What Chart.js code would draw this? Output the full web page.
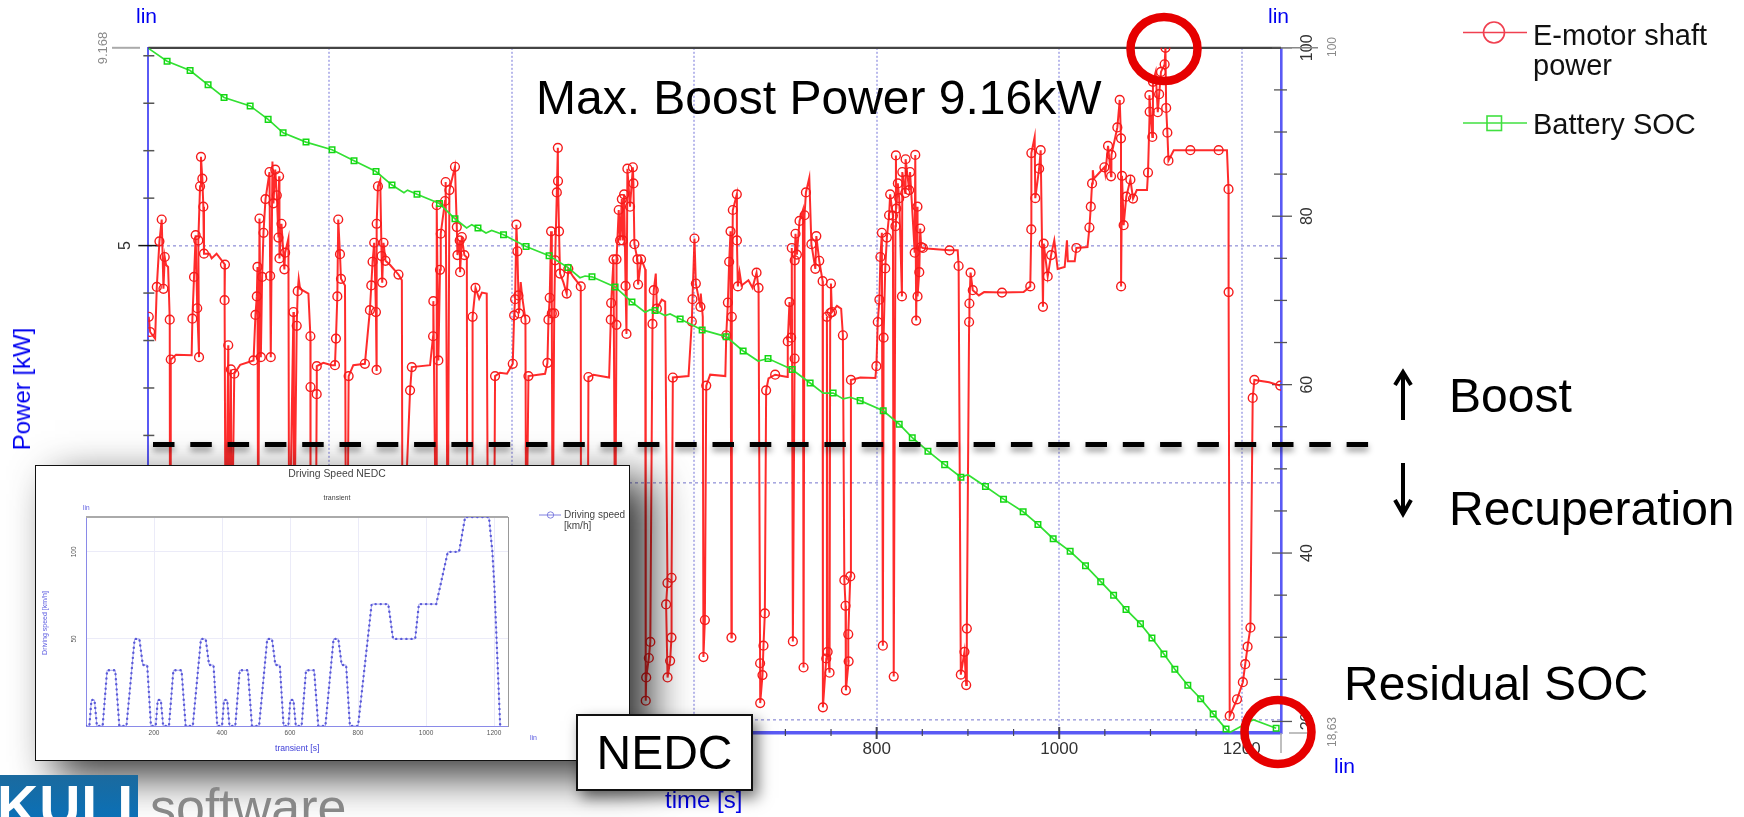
<!doctype html>
<html lang="en">
<head>
<meta charset="UTF-8">
<title>E-motor shaft power and battery SOC over NEDC</title>
<script src="https://cdn.jsdelivr.net/npm/chart.js"></script>
<style>
    html, body { margin: 0; background: #fff; overflow: hidden; }
    #page { position: relative; width: 1744px; height: 817px; overflow: hidden; background: #fff; font-family: "Liberation Sans", Arial, sans-serif; }
    #mainChart { position: absolute; left: 0; top: 0; filter: blur(0.6px); }
    .t { position: absolute; white-space: nowrap; line-height: 1; transform: translateY(-50%); }
    .v { position: absolute; white-space: nowrap; line-height: 1; transform: translate(-50%, -50%) rotate(-90deg); }
    .big { font-size: 48px; color: #000; z-index: 6; }
    .blue { color: #0000f0; }
    .layer { position: absolute; left: 0; top: 0; }
    #inset { position: absolute; left: 35px; top: 465px; width: 595px; height: 296px; background: #fff; box-sizing: border-box; border: 1.5px solid #111; box-shadow: 20px 15px 40px rgba(0, 0, 0, .8); z-index: 3; }
    #insetChart { position: absolute; left: -1.5px; top: -1.5px; filter: blur(0.4px); }
    #nedcBox { position: absolute; left: 576px; top: 714px; width: 177px; height: 77px; background: #fff; box-sizing: border-box; border: 2px solid #111; box-shadow: 5px 7px 14px rgba(0, 0, 0, .55); z-index: 4; font-size: 48px; text-align: center; line-height: 73px; }
    #logo { position: absolute; left: 0; top: 775px; width: 138px; height: 42px; background: linear-gradient(#1b6a9e, #0b70b6); overflow: hidden; z-index: 5; }
    #logo span { position: absolute; left: -3px; top: 3px; color: #fff; font: bold 57px/1 "Liberation Sans", Arial, sans-serif; letter-spacing: 1px; }
    #soft { position: absolute; left: 150px; top: 781px; color: #888; font-size: 52px; line-height: 1; z-index: 5; }
</style>
</head>
<body>
<div id="page">
    <canvas id="mainChart" width="1744" height="817"></canvas>

    <!-- boost / recuperation split line -->
    <svg class="layer" width="1744" height="817" style="z-index:2; filter: drop-shadow(0 4px 3px rgba(0,0,0,.45));">
        <line x1="153" y1="444.5" x2="1370" y2="444.5" stroke="#000" stroke-width="5" stroke-dasharray="21.5 15.8"/>
    </svg>

    <svg class="layer" width="1744" height="817" style="z-index:6;">
        <ellipse cx="1164" cy="49" rx="33.5" ry="32" fill="none" stroke="#e60000" stroke-width="8.5"/>
        <ellipse cx="1278" cy="732" rx="33.5" ry="32" fill="none" stroke="#e60000" stroke-width="8.5"/>
        <!-- arrows -->
        <path d="M1403 420V374M1395 385L1403 372L1411 385" fill="none" stroke="#000" stroke-width="4"/>
        <path d="M1403 463V512M1395 500L1403 514L1411 500" fill="none" stroke="#000" stroke-width="4"/>
        <!-- legend -->
        <g style="filter: blur(0.5px)">
            <line x1="1463" y1="32.5" x2="1527" y2="32.5" stroke="#f04050" stroke-width="1.6"/>
            <circle cx="1494" cy="32.5" r="10.5" fill="none" stroke="#f04050" stroke-width="1.6"/>
            <line x1="1463" y1="123" x2="1527" y2="123" stroke="#40e040" stroke-width="1.6"/>
            <rect x="1487" y="116" width="14.5" height="14.5" fill="none" stroke="#40e040" stroke-width="1.6"/>
        </g>
    </svg>

    <div class="t" style="left:1533px; top:35px; font-size:29px; color:#111; z-index:6;">E-motor shaft</div>
    <div class="t" style="left:1533px; top:65px; font-size:29px; color:#111; z-index:6;">power</div>
    <div class="t" style="left:1533px; top:124px; font-size:29px; color:#111; z-index:6;">Battery SOC</div>

    <div class="t big" style="left:536px; top:98px;">Max. Boost Power 9.16kW</div>
    <div class="t big" style="left:1449px; top:396px;">Boost</div>
    <div class="t big" style="left:1449px; top:509px;">Recuperation</div>
    <div class="t big" style="left:1344px; top:684px;">Residual SOC</div>

    <div class="t blue" style="left:136px; top:15px; font-size:21px;">lin</div>
    <div class="t blue" style="left:1268px; top:15px; font-size:21px;">lin</div>
    <div class="t blue" style="left:1334px; top:765px; font-size:21px;">lin</div>
    <div class="v blue" style="left:22px; top:389px; font-size:24px;">Power [kW]</div>
    <div class="t blue" style="left:665px; top:800px; font-size:24px;">time [s]</div>
    <div class="v" style="left:102px; top:48px; font-size:13px; color:#8a8a8a;">9.168</div>
    <div class="v" style="left:1332px; top:47px; font-size:12px; color:#8a8a8a;">100</div>
    <div class="v" style="left:1332px; top:732px; font-size:12px; color:#8a8a8a;">18,63</div>

    <div id="inset">
        <canvas id="insetChart" width="595" height="296"></canvas>
        <div class="t" style="left:301px; top:3px; transform:translate(-50%,0); font-size:10.4px; color:#444;">Driving Speed NEDC</div>
        <div class="t" style="left:301px; top:28px; transform:translate(-50%,0); font-size:7px; color:#444;">transient</div>
        <div class="t blue" style="left:47px; top:42px; font-size:6.5px; color:#5a5ae0;">lin</div>
        <div class="t" style="left:494px; top:271px; font-size:7px; color:#5a5ae0;">lin</div>
        <div class="v" style="left:8px; top:157px; font-size:7px; color:#5a5ae0;">Driving speed [km/h]</div>
        <div class="t" style="left:239px; top:282px; font-size:8.6px; color:#3c3cd8;">transient [s]</div>
        <svg style="position:absolute; left:0; top:0;" width="595" height="296">
            <line x1="503" y1="49" x2="525" y2="49" stroke="#8080e0" stroke-width="1"/>
            <circle cx="514.5" cy="49" r="3.2" fill="none" stroke="#8080e0" stroke-width="1"/>
        </svg>
        <div class="t" style="left:528px; top:49px; font-size:10px; color:#444;">Driving speed</div>
        <div class="t" style="left:528px; top:60px; font-size:10px; color:#444;">[km/h]</div>
    </div>

    <div id="nedcBox">NEDC</div>
    <div id="logo"><span>KULI</span></div>
    <div id="soft">software</div>
</div>

<script>
    // E-motor shaft power: [time s, power kW], in drawing order
    const powerPoints = [
        [2.5,3.5],[4,3.18],[9.5,3.04],[11.3,4.13],[14.2,5.09],[16.7,5.55],[18.6,4.09],[20,4.76],[21.5,4.59],[23.7,4.55],[25.5,3.44],[25.8,-2],[26.6,2.6],
        [32.4,2.7],[49.5,2.69],[50.3,3.46],[52.1,4.34],[53.9,5.22],[55.6,3.68],[57.6,2.65],[56.8,5.11],[58.7,6.25],[59.7,6.87],[61.2,6.41],[62.3,5.82],[63,4.83],
        [69,4.83],[71.4,4.73],[76.8,4.83],[86,4.6],[85.6,3.85],[86.7,-2],[89.6,2.9],[89.7,-2],[92.5,2.39],[93.3,-2],[96.2,2.3],
        [102.7,2.49],[117.3,2.58],[119.4,3.54],[120.9,3.93],[121.6,4.55],[122.4,-2],[123.8,5.57],[125.3,2.65],[126.7,4.34],[128.2,5.27],[130.4,5.98],
        [134.8,6.55],[135.5,4.36],[136.2,2.65],[138,6.77],[139.1,5.89],[141.1,6.6],[142.8,6.06],[144.6,5.17],[145.3,6.46],[145.7,4.73],[147.9,5.46],[151.1,4.5],[151.9,4.85],[155.5,5.15],[156.3,-2],
        [161,3.6],[161.5,-2],[164.6,3.31],[165.7,4.04],[166.8,4.3],[168.3,4.09],[177.4,3.99],[179.6,3.09],[179.7,2.02],[179.8,-2],[185.4,-2],[186.5,1.87],[186.6,2.46],
        [193.8,2.53],[203,2.48],[206.5,2.48],[207.6,3.04],[209.1,3.93],[210.1,5.55],[212,4.82],[213.1,4.3],[217.5,4.16],[218.6,-2],[220.1,-2],[221.5,2.25],
        [226.6,2.48],[239.3,2.51],[244.8,3.64],[246.3,4.16],[247.7,4.66],[249.5,5.06],[251.4,3.6],[252.1,2.38],[252.2,5.46],[253.6,6.25],[256.1,6.38],[257.6,4.78],[258.3,4.22],[259.7,5.06],[261.9,4.68],
        [267,4.59],[276.1,4.39],[279.8,4.27],[280.5,-2],[288.8,1.95],[290.7,2.44],
        [310.7,2.48],[314,3.09],[314.3,3.83],[317.4,-2],[318,5.85],[319.8,2.58],[321.6,4.49],[322.4,5.25],[327.1,5.94],[327.8,6.34],[330,-2],[331.9,6.17],[338,6.66],[340,5.39],[340.7,4.8],[343.2,5.11],[343.6,4.44],[345.5,5.18],[348.3,4.8],[351,4.75],[351.5,-2],
        [357,-2],[357.3,3.5],[360.5,4.11],[364.5,3.88],[367.5,4.01],[372.8,3.99],[374.2,-2],[380.8,-2],[381.9,2.25],
        [387.3,2.32],[395,2.3],[401.3,2.51],[402.8,3.53],[403.9,3.87],[405.3,5.44],[406.4,4.88],[407.5,3.95],[408.2,3.57],[410,4.23],[412,3.87],[415.2,3.44],[416,-2],[418.5,2.25],
        [436.7,2.3],[439.3,2.53],[440.4,3.44],[441.8,3.9],[443.3,5.3],[444.1,3.57],[445,-2],[446.7,3.57],[447.7,4.69],[449.6,6.12],[450.7,7.06],[450.9,6.36],[452,5.3],[453.1,4.41],[456.7,4.23],[460.4,3.99],[462.2,4.51],[467.7,4.34],[475.8,4.14],[476.1,-2],[483.5,-2],[484.2,2.23],
        [489.7,2.28],[506.9,2.22],[508.7,3.44],[509.1,3.79],[511.7,4.71],[513.5,-2],[514.9,3.33],[515,4.71],[517.4,5.75],[518.9,5.11],[520.8,5.98],[521.8,5.11],[523.3,6.08],[524.9,4.15],[525.9,3.14],[526.9,6.62],[529.8,5.82],[532.9,6.65],[533.5,6.31],[534.6,5.03],[537.9,4.71],[538.6,4.18],[541.9,4.71],[544.5,4.6],[546.4,4.5],
        [547,-4.59],[547.5,-4.1],[550.4,-3.69],[552,-3.35],[554.4,3.35],[555.8,4.06],[558,4.41],[559.2,3.67],[564.6,3.86],[568.3,3.82],[570.8,-2.11],[569.3,-2.56],[570.9,-4.1],[573.7,-3.75],[575.2,-3.26],[575.3,-2],[576.7,2.22],
        [593.9,2.25],[597.5,3.4],[598.2,3.87],[600.4,5.15],[601.9,4.2],[606.9,3.71],[607.3,3.99],[609.5,3.5],[610.2,-3.67],[611.8,-2.89],[613.3,2.05],
        [617.6,2.28],[634.2,2.25],[635.2,3.11],[637,3.8],[638.4,4.66],[639.9,5.3],[640.9,-3.26],[641.3,3.5],[642.4,5.75],[646.8,6.08],[646.9,5.11],[647.9,4.14],[649.8,4.44],[652,4.16],[659.5,4.27],[664,4.11],[668.4,4.43],[670.6,4.11],
        [672.3,-3.8],[672.4,-4.64],[674.9,-4.05],[676,-3.43],[677.5,-2.75],[678.9,1.95],[681.5,2.2],[688.8,2.28],
        [702.3,2.23],[702.6,2.98],[704.5,3.81],[706.3,3.06],[707,4.95],[708.2,-3.34],[710.1,2.62],[710.2,4.69],[711.1,5.25],[712.6,4.81],[715.5,5.52],[719.2,5.75],[719.9,-3.89],[721,5.64],[722.5,6.12],[726.2,6.43],[728.5,5.03],[732.8,4.51],[733.9,5.2],[737.1,4.68],[740.8,4.25],
        [741.1,-4.73],[744.8,-3.7],[745.5,3.5],[746.3,-3.56],[748.4,-4],[749.1,3.58],[749.9,4.2],[751,3.6],[756.5,3.73],[761.1,3.67],[763,3.11],
        [764.6,-2.05],[765.9,-2.59],[766.3,-4.37],[769.3,-3.76],[768.9,-3.19],[771.1,-1.97],[771.8,2.17],[782,2.22],[798.6,2.21],[799.7,2.46],[801.2,3.39],[803,3.86],[804.1,4.76],[805.7,5.27],
        [806.8,-3.43],[807.6,3.06],[809.4,4.52],[811.2,5.17],[813.6,5.64],[814.8,6.08],[817.8,5.63],[818.7,-4.08],[820.6,5.41],[821.1,6.9],[821.5,5.78],[823.2,6.31],[824.7,6],[827.7,3.93],[828.1,6.55],[831.3,6.11],[831.7,6.82],[835.6,6.17],[836.6,6.55],[841.7,4.85],[842.3,6.91],[843.3,3.42],[844.7,5.82],[844.8,3.93],[846.7,4.44],[847.7,5.36],[848.8,4.97],[850.7,4.95],[854.8,4.94],
        [879.8,4.9],[888.8,4.9],[889.8,4.57],[892.2,-4.04],[896.2,-3.56],[898.1,-4.26],[898.8,-3.07],[901.3,3.39],[901.6,3.78],[902.9,4.43],[905.3,4.06],[912,3.95],[917.7,4.02],[937.3,4.01],
        [961,4.02],[968.3,4.14],[969.4,5.34],[969.5,6.95],[973.1,7.29],[973.8,6],[978,6.62],[979.7,7.01],[982.2,3.71],[983,5.04],[987.4,4.35],[991.1,4.8],[994.6,5.11],[998.3,4.51],
        [1006,4.55],[1008.5,5.11],[1009.5,4.67],[1017,4.67],[1018.8,4.95],[1031,4.97],[1033.1,5.38],[1034.6,5.82],[1036,6.31],[1036.8,6.59],[1037.9,6.41],[1049.5,6.65],[1050.5,6.52],[1053.5,7.1],[1056.8,6.46],[1057.2,6.91],
        [1063.7,7.49],[1066.3,8.07],[1067.7,7.26],[1067.8,4.14],[1068.8,6.47],[1070.6,5.43],[1073.5,6.03],[1078,6.39],[1080.9,5.99],[1085,6.17],[1096.2,6.17],[1097.3,6.54],[1099.1,7.82],[1098.8,8.17],[1102,7.29],[1102.7,8.45],[1105.7,8.66],[1108,7.81],[1109.5,8.19],[1111.5,8.66],[1115.5,8.82],[1116.4,9.168],[1117.2,7.9],[1118.5,7.38],[1119.7,6.79],
        [1125.5,7.01],[1143.7,7.01],[1174.7,7.01],[1183.8,7.01],[1185.5,6.19],[1185.6,4.02],[1186.8,-4.91],[1194.8,-4.56],[1201.2,-4.2],[1203.8,-3.82],[1206.4,-3.45],[1209.5,-3.05],[1212,1.79],[1213.8,2.17],[1230,2.12],[1242.2,2.05]
    ];
    // path corners that carry no circle in the picture
    const powerPlainTimes = [
        9.5, 21.5, 23.7, 25.8, 32.4, 49.5, 69, 71.4, 76.8, 86.7, 89.7, 93.3, 102.7, 122.4, 138, 155.5, 156.3, 161.5, 166.8, 168.3, 177.4, 179.8, 185.4, 193.8, 203, 217.5, 218.6, 220.1, 226.6, 256.1, 267, 279.8, 280.5,
        310.7, 317.4, 330, 351, 351.5, 357, 364.5, 367.5, 372.8, 374.2, 380.8, 387.3, 395, 410, 412, 416, 436.7, 445, 456.7, 467.7, 476.1, 483.5, 489.7, 506.9, 513.5, 544.5, 546.4, 558, 564.6, 568.3, 593.9, 607.3, 609.5, 617.6, 634.2, 649.8, 652, 659.5, 664, 681.5, 702.3, 719.2, 726.2, 756.5, 761.1, 782, 798.6, 854.8, 888.8,
        912, 917.7, 961, 973.1, 994.6, 998.3, 1006, 1008.5, 1009.5, 1017, 1031, 1036.8, 1037.9, 1050.5, 1085, 1096.2, 1105.7, 1125.5, 1183.8, 1230
    ];

    // Battery SOC [%]
    const socPoints = [
        [2.6,99.9],[22.6,98.4],[47.8,97.3],[67.5,95.6],[85,94.1],[113.6,93.1],[133.3,91.5],[149.7,89.9],[174.8,88.8],[203.3,87.9],[227.4,86.6],[251.5,85.3],[269,83.7],[282.1,82.8],[286,83.1],[296.4,82.6],
        [321,81.5],[338,79.7],[350.8,78.6],[356.4,79],[363.2,78.6],[372,78],[378.2,78.3],[391.2,77.8],[415.9,76.4],[441.1,75.3],[461.9,73.9],[475,72.7],[480.5,72.9],[488.1,72.8],[513.4,71.6],[531.9,69.8],
        [546.3,68.6],[551.8,68.9],[557.2,68.8],[568.2,68.2],[573.7,68.4],[584.7,67.8],[608.8,66.5],[635.1,65.7],[653.7,64],[670.1,62.8],[681,63.1],[707.4,61.8],[727.1,60.2],[741.4,59],[752.3,59],[763.3,58.3],[771,58.5],[781.9,58.1],
        [807.2,56.9],[824.7,55.3],[839,53.7],[856.2,52.1],[874.5,50.5],[892.3,49],[900,49.3],[919.2,47.9],[939,46.4],[960.5,44.9],[976.7,43.4],[993.4,41.7],[1012,40.2],[1028.8,38.5],[1045.5,36.6],[1059.6,35],
        [1073.2,33.3],[1089,31.6],[1101.6,29.9],[1114.7,28],[1126.7,26.2],[1140.9,24.3],[1155,22.7],[1168.7,20.9],[1182.8,19.1],[1186.9,18.7],[1212.6,20.2],[1237.7,19.2]
    ];
    const socPlainTimes = [2.6, 282.1, 286, 350.8, 356.4, 372, 378.2, 475, 480.5, 546.3, 551.8, 568.2, 573.7, 670.1, 741.4, 763.3, 771, 900, 1186.9, 1212.6];

    // axis ticks
    const timeTicks = [50, 100, 150, 200, 250, 300, 350, 400, 450, 500, 550, 600, 650, 700, 750, 800, 850, 900, 950, 1000, 1050, 1100, 1150, 1200];
    const timeLabels = [200, 400, 600, 800, 1000, 1200];
    const powerTicks = [-5, -4, -3, -2, -1, 0, 1, 2, 3, 4, 5, 6, 7, 8, 9];
    const powerLabels = [-5, 0, 5];
    const socTicks = [20, 25, 30, 35, 40, 45, 50, 55, 60, 65, 70, 75, 80, 85, 90, 95, 100];
    const socLabels = [20, 40, 60, 80, 100];

    // inset: Driving speed NEDC
    const speedPoints = [
        [0,0],[10,0],[16,15],[25,15],[32,0],[49,0],[62,32],[86,32],[98,0],[119,0],[143,50],[157,50],[167,35],[180,35],[191,0],
        [205,0],[211,15],[220,15],[227,0],[244,0],[257,32],[281,32],[293,0],[314,0],[338,50],[352,50],[362,35],[375,35],[386,0],
        [400,0],[406,15],[415,15],[422,0],[439,0],[452,32],[476,32],[488,0],[509,0],[533,50],[547,50],[557,35],[570,35],[581,0],
        [595,0],[601,15],[610,15],[617,0],[634,0],[647,32],[671,32],[683,0],[704,0],[728,50],[742,50],[752,35],[765,35],[776,0],
        [800,0],[840,70],[889,70],[903,50],[968,50],[979,70],[1030,70],[1064,100],[1097,100],[1115,120],[1185,120],[1195,100],[1201,80],[1218,0]
    ];
    const insetTimeTicks = [200, 400, 600, 800, 1000, 1200];
    const insetSpeedTicks = [10, 20, 30, 40, 50, 60, 70, 80, 90, 100, 110];
    const insetSpeedLabels = [50, 100];

    const toPoints = pairs => pairs.map(p => ({ x: p[0], y: p[1] }));
    const fixedTicks = values => scale => { scale.ticks = values.map(v => ({ value: v })); };

    // ticks cross the axis lines in the original, which the built-in ones do not do
    const crossTicks = {
        id: 'crossTicks',
        beforeDatasetsDraw(chart) {
            const c = chart.ctx, s = chart.scales, a = chart.chartArea;
            const seg = (x1, y1, x2, y2, col, w) => {
                c.strokeStyle = col; c.lineWidth = w;
                c.beginPath(); c.moveTo(x1, y1); c.lineTo(x2, y2); c.stroke();
            };
            c.save();
            seg(a.left, a.top, a.right, a.top, '#444', 2.2);
            seg(112, a.top, 140, a.top, '#aaa', 2);
            powerTicks.forEach(v => {
                const y = s.y.getPixelForValue(v), major = powerLabels.includes(v);
                seg(a.left - (major ? 10 : 5), y, a.left + (major ? 12 : 6), y, major ? '#111' : '#555', 1.5);
            });
            socTicks.forEach(v => {
                const y = s.soc.getPixelForValue(v), major = socLabels.includes(v);
                seg(a.right - (major ? 9 : 7), y, a.right + (major ? 11 : 6), y, '#555', 1.3);
            });
            timeTicks.forEach(v => {
                const x = s.x.getPixelForValue(v), major = timeLabels.includes(v);
                seg(x, a.bottom - (major ? 6 : 4), x, a.bottom + (major ? 6 : 3), '#445', major ? 2 : 1.2);
            });
            seg(a.right, a.bottom, a.right, a.bottom + 20, '#aaa', 1.5);
            seg(a.right + 8, a.bottom, a.right + 32, a.bottom, '#aaa', 1.5);
            seg(a.right, a.top, a.right + 37, a.top, '#888', 1.5);
            c.restore();
        }
    };

    new Chart(document.getElementById('mainChart').getContext('2d'), {
        type: 'line',
        data: {
            datasets: [
                {
                    label: 'Battery SOC',
                    data: toPoints(socPoints),
                    yAxisID: 'soc',
                    borderColor: '#33e033',
                    borderWidth: 1.7,
                    backgroundColor: 'transparent',
                    pointStyle: 'rect',
                    pointBorderColor: '#14d814',
                    pointBorderWidth: 1.5,
                    pointBackgroundColor: 'transparent',
                    pointRadius: ctx => socPlainTimes.includes(socPoints[ctx.dataIndex][0]) ? 0 : 3.9
                },
                {
                    label: 'E-motor shaft power',
                    data: toPoints(powerPoints),
                    yAxisID: 'y',
                    borderColor: 'rgba(255, 20, 20, .9)',
                    borderWidth: 2,
                    backgroundColor: 'transparent',
                    pointBorderColor: '#f51c1c',
                    pointBorderWidth: 1.4,
                    pointBackgroundColor: 'transparent',
                    pointRadius: ctx => powerPlainTimes.includes(powerPoints[ctx.dataIndex][0]) ? 0 : 4.4
                }
            ]
        },
        options: {
            responsive: false,
            animation: false,
            events: [],
            layout: { padding: { top: 47.8, left: 0, right: 0, bottom: 0 } },
            plugins: { legend: { display: false }, tooltip: { enabled: false } },
            scales: {
                x: {
                    type: 'linear',
                    min: 2,
                    max: 1243,
                    afterBuildTicks: fixedTicks(timeTicks),
                    afterFit: scale => { scale.height = 84; },
                    border: { color: '#5a5af5', width: 3.5, dash: [2, 2] },
                    grid: { drawTicks: false, lineWidth: 2, color: ctx => timeLabels.includes(ctx.tick.value) ? '#b9b9ec' : 'transparent' },
                    ticks: { autoSkip: false, maxRotation: 0, padding: 6, color: '#333', font: { family: 'Liberation Sans', size: 17 }, callback: v => timeLabels.includes(v) ? String(v) : '' }
                },
                y: {
                    position: 'left',
                    min: -5.27,
                    max: 9.168,
                    afterBuildTicks: fixedTicks(powerTicks),
                    afterFit: scale => { scale.width = 148.3; },
                    border: { color: '#5a5af5', width: 2, dash: [3, 3] },
                    grid: { drawTicks: false, lineWidth: 1.6, color: ctx => powerLabels.includes(ctx.tick.value) ? '#a8a8e0' : 'transparent' },
                    ticks: { autoSkip: false, minRotation: 90, maxRotation: 90, crossAlign: 'center', padding: 16, color: '#333', font: { family: 'Liberation Sans', size: 16 }, callback: v => powerLabels.includes(v) ? String(v) : '' }
                },
                soc: {
                    position: 'right',
                    min: 18.63,
                    max: 100,
                    afterBuildTicks: fixedTicks(socTicks),
                    afterFit: scale => { scale.width = 463; },
                    border: { color: '#5a5af5', width: 2.6 },
                    grid: { drawTicks: false, drawOnChartArea: false },
                    ticks: { autoSkip: false, minRotation: 90, maxRotation: 90, crossAlign: 'center', padding: 13, color: '#333', font: { family: 'Liberation Sans', size: 16 }, callback: v => socLabels.includes(v) ? String(v) : '' }
                }
            }
        },
        plugins: [crossTicks]
    });

    new Chart(document.getElementById('insetChart').getContext('2d'), {
        type: 'line',
        data: {
            datasets: [
                {
                    label: 'Driving speed dots',
                    data: toPoints(speedPoints),
                    borderColor: '#5a5ad8',
                    borderWidth: 2.4,
                    borderCapStyle: 'round',
                    borderDash: [0.1, 5],
                    pointRadius: 0
                },
                {
                    label: 'Driving speed',
                    data: toPoints(speedPoints),
                    borderColor: '#a8a8f0',
                    borderWidth: 1,
                    pointRadius: 0
                }
            ]
        },
        options: {
            responsive: false,
            animation: false,
            events: [],
            layout: { padding: { top: 52, left: 0, right: 0, bottom: 0 } },
            plugins: { legend: { display: false }, tooltip: { enabled: false } },
            scales: {
                x: {
                    type: 'linear',
                    min: 0,
                    max: 1241,
                    afterBuildTicks: fixedTicks(insetTimeTicks),
                    afterFit: scale => { scale.height = 35; },
                    border: { color: '#8a8ae8', width: 1 },
                    grid: { drawTicks: false, color: '#ebebf8', lineWidth: 1 },
                    ticks: { autoSkip: false, maxRotation: 0, padding: 3, color: '#555', font: { family: 'Liberation Sans', size: 6.5 }, callback: v => String(v) }
                },
                y: {
                    min: 0,
                    max: 120,
                    afterBuildTicks: fixedTicks(insetSpeedTicks),
                    afterFit: scale => { scale.width = 51; },
                    border: { color: '#8a8ae8', width: 1 },
                    grid: { drawTicks: false, color: ctx => insetSpeedLabels.includes(ctx.tick.value) ? '#ebebf8' : 'transparent', lineWidth: 1 },
                    ticks: { autoSkip: false, minRotation: 90, maxRotation: 90, crossAlign: 'center', padding: 6, color: '#555', font: { family: 'Liberation Sans', size: 6.5 }, callback: v => insetSpeedLabels.includes(v) ? String(v) : '' }
                },
                frame: {
                    position: 'right',
                    min: 0,
                    max: 120,
                    afterFit: scale => { scale.width = 122; },
                    border: { color: '#999', width: 1 },
                    grid: { drawTicks: false, drawOnChartArea: false },
                    ticks: { display: false }
                }
            }
        },
        plugins: [{
            id: 'insetTop',
            beforeDatasetsDraw(chart) {
                const c = chart.ctx, a = chart.chartArea;
                c.save();
                c.strokeStyle = '#aaa'; c.lineWidth = 2;
                c.beginPath(); c.moveTo(a.left, a.top); c.lineTo(a.right, a.top); c.stroke();
                c.restore();
            }
        }]
    });
</script>
</body>
</html>
